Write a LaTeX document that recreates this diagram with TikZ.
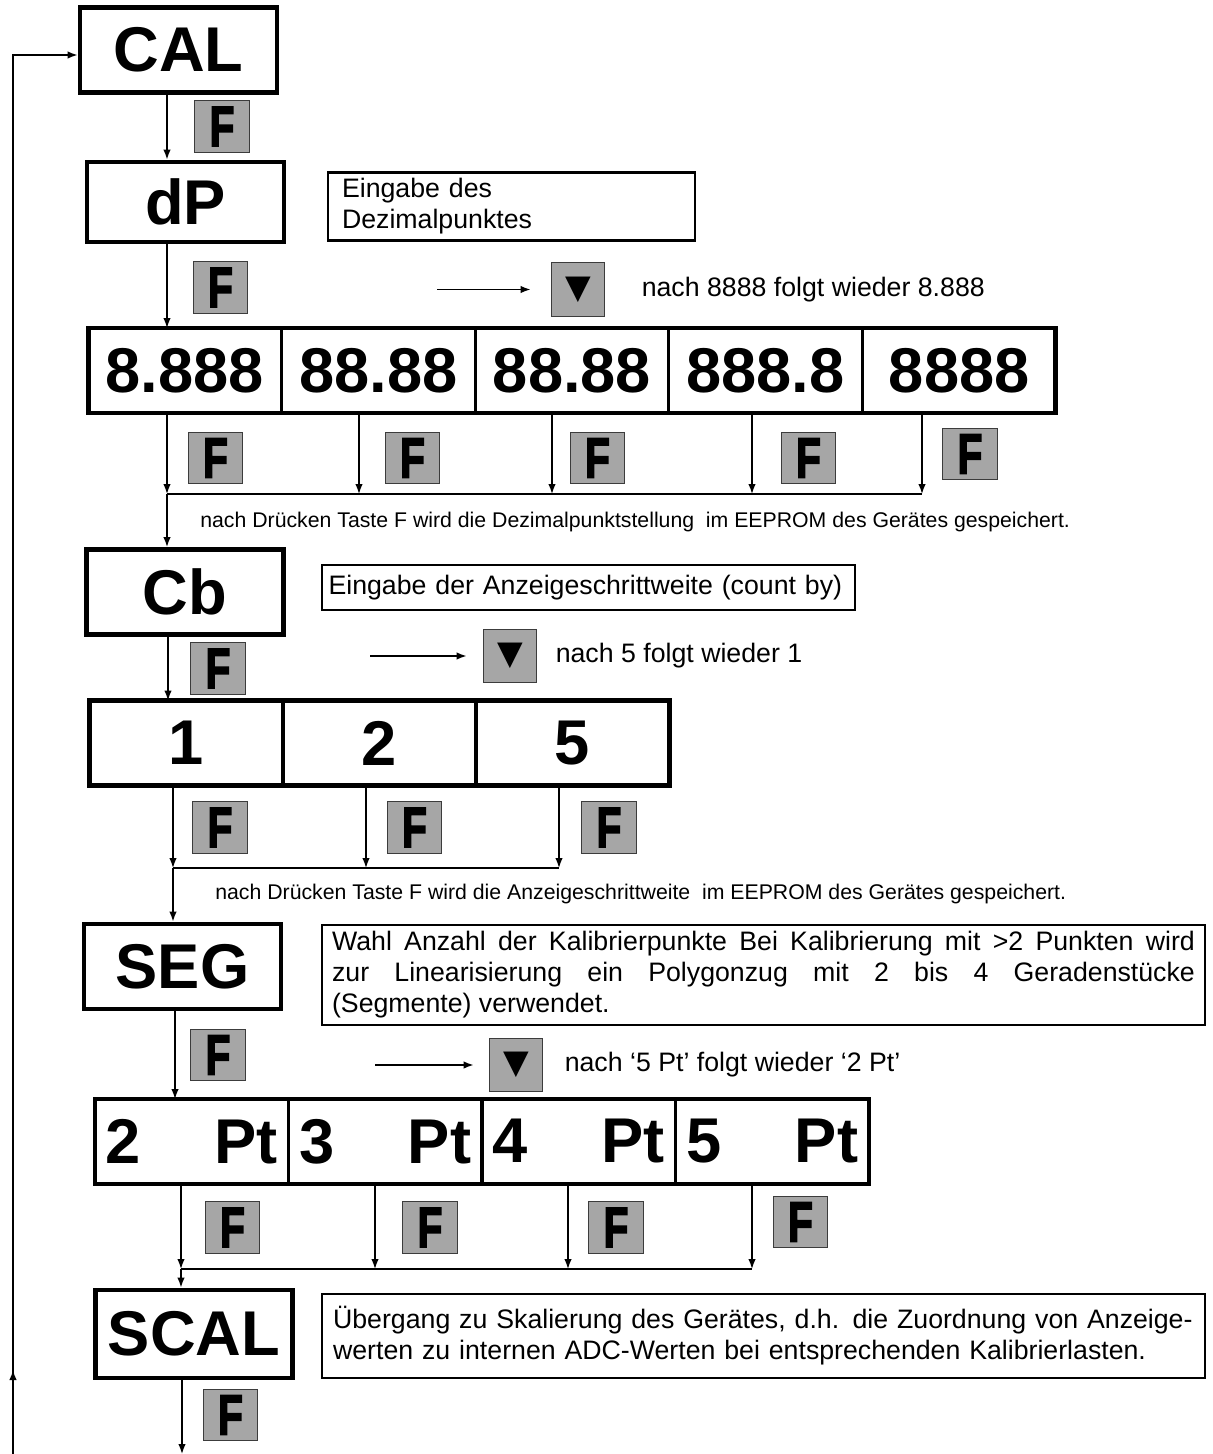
\documentclass[tikz,border=0pt]{standalone}
\usepackage{fontspec}
\setmainfont{Liberation Sans}
\newfontfamily\symfont{DejaVu Sans}
\newfontfamily\keyfont[FakeBold=3.5]{Liberation Sans}
\usepackage{graphicx}
\usetikzlibrary{arrows.meta,positioning}
\definecolor{keygray}{RGB}{166,166,166}
\definecolor{keyedge}{RGB}{60,60,60}
\newcommand\dispfont{\fontsize{36}{36}\selectfont\bfseries}
\newcommand\infofont{\fontsize{15.2}{17.6}\selectfont}
\newcommand\notefont{\fontsize{12.1}{14}\selectfont}
\newcommand\keyF{\scalebox{0.72}[1]{F}}

\begin{document}
\begin{tikzpicture}[x=0.02cm,y=-0.02cm,>={Latex[length=0.2cm,width=0.15cm]},
  disp/.style={draw,line width=2.8pt,minimum width=3.94cm,minimum height=1.7cm,inner sep=0pt,font=\dispfont},
  cell/.style={draw,line width=1.7pt,outer sep=0pt,minimum width=3.87cm,minimum height=1.7cm,inner sep=0pt,font=\dispfont},
  frame/.style={line width=2.8pt},
  fkey/.style={draw=keyedge,fill=keygray,line width=0.8pt,minimum width=1.09cm,minimum height=1.03cm,inner sep=0pt,
    font=\keyfont\fontsize{32}{32}\selectfont\bfseries},
  downkey/.style={draw=keyedge,fill=keygray,line width=0.8pt,minimum size=1.07cm,inner sep=0pt,
    font=\symfont\fontsize{19}{19}\selectfont},
  infobox/.style={draw,line width=1.4pt,font=\infofont},
  hint/.style={font=\infofont,inner sep=0pt,anchor=west},
  note/.style={font=\notefont,inner sep=0pt,anchor=west},
  flow/.style={line width=0.85pt,->},
  link/.style={line width=0.85pt}]
 \useasboundingbox (0,0) rectangle (1213,1454);
 % Hauptmenue CAL und Dezimalpunkt
 \node[disp] (cal) at (178.5,50) {CAL};
 \node[fkey] (fa) at (222,126.5) {\keyF};
 \node[disp,minimum height=1.6cm] (dp) at (185.5,202) {dP};
 \node[infobox,text width=6.78cm,inner xsep=0.28cm,minimum height=1.36cm,align=left]
  (dpinfo) at (511.5,206.5) {Eingabe des\\Dezimalpunktes};
 \node[fkey] (fb) at (220.5,287.5) {\keyF};
 \node[downkey] (dk1) at (578,289.5) {▼};
 \coordinate (dk1in) at (437,289.5);
 \draw[flow,shorten >=0.4cm] (dk1in) -- (dk1.west);
 \node[hint,right=0.72cm of dk1] (dk1txt) {nach 8888 folgt wieder 8.888};
 \coordinate (sp1) at (167,0);
 \draw[flow] (cal.south -| sp1) -- (dp.north -| sp1);
 % Zeile der Dezimalpunktstellungen
 \foreach \v [count=\i] in {8.888,88.88,88.88,888.8,8888}
  \node[cell] (ra\i) at ({88+96.8+193.6*(\i-1)},370.5) {\v};
 \draw[frame] (ra1.north west) rectangle (ra5.south east);
 \draw[flow] (dp.south -| sp1) -- (ra1.north -| sp1);
 \foreach \x/\k in {167/a,359/b,552/c,752/d,922/e}
  \coordinate (j1\k) at (\x,494);
 \foreach \k [count=\i] in {a,b,c,d,e}
  \draw[flow] (ra\i.south -| j1\k) -- (j1\k);
 \draw[link] (j1a) -- (j1e);
 \foreach \x/\y [count=\i] in {215.5/458,412.5/458,597.5/458,808.5/458,970/454}
  \node[fkey] (fr\i) at (\x,\y) {\keyF};
 \node[note] (note1) at (200,522)
  {nach Drücken Taste F wird die Dezimalpunktstellung\ \ im EEPROM des Gerätes gespeichert.};
 % Anzeigeschrittweite
 \node[disp] (cb) at (185,592) {Cb};
 \draw[flow] (j1a) -- (cb.north -| j1a);
 \node[infobox,text width=10.4cm,inner xsep=0.13cm,minimum height=0.9cm,align=left]
  (cbinfo) at (588.5,587.5) {Eingabe der Anzeigeschrittweite (count by)};
 \node[fkey] (fc) at (218,668.5) {\keyF};
 \node[downkey] (dk2) at (510,656) {▼};
 \coordinate (dk2in) at (370,656);
 \draw[flow,shorten >=0.32cm] (dk2in) -- (dk2.west);
 \node[hint,right=0.36cm of dk2] (dk2txt) {nach 5 folgt wieder 1};
 \foreach \v [count=\i] in {1,2,5}
  \node[cell] (rb\i) at ({90+96.5+193*(\i-1)},743) {\v};
 \draw[frame] (rb1.north west) rectangle (rb3.south east);
 \coordinate (sp2) at (168,0);
 \draw[flow] (cb.south -| sp2) -- (rb1.north -| sp2);
 \foreach \x/\k in {173/a,366/b,559/c}
  \coordinate (j2\k) at (\x,868);
 \foreach \k [count=\i] in {a,b,c}
  \draw[flow] (rb\i.south -| j2\k) -- (j2\k);
 \draw[link] (j2a) -- (j2c);
 \foreach \x [count=\i] in {220,414.5,609}
  \node[fkey] (fs\i) at (\x,827.5) {\keyF};
 \node[note] (note2) at (215,894)
  {nach Drücken Taste F wird die Anzeigeschrittweite\ \ im EEPROM des Gerätes gespeichert.};
 % Segmente / Kalibrierpunkte
 \node[disp] (seg) at (182.5,966.5) {SEG};
 \draw[flow] (j2a) -- (seg.north -| j2a);
 \node[infobox,text width=17.26cm,inner xsep=0.2cm,minimum height=2cm,align=justify]
  (seginfo) at (763.5,975) {Wahl Anzahl der Kalibrierpunkte Bei Kalibrierung mit >2 Punkten wird\linebreak
  zur Linearisierung ein Polygonzug mit 2 bis 4 Geradenstücke\linebreak (Segmente) verwendet.};
 \node[fkey] (fd) at (218,1055) {\keyF};
 \node[downkey] (dk3) at (516,1065) {▼};
 \coordinate (dk3in) at (375,1065);
 \draw[flow,shorten >=0.3cm] (dk3in) -- (dk3.west);
 \node[hint,right=0.42cm of dk3] (dk3txt) {nach ‘5 Pt’ folgt wieder ‘2 Pt’};
 \foreach \n [count=\i] in {2,3,4,5}
  \node[cell] (rc\i) at ({95+96.75+193.5*(\i-1)},1141.5) {\makebox[3.44cm]{\n\hfill Pt}};
 \draw[frame] (rc1.north west) rectangle (rc4.south east);
 \coordinate (sp3) at (175,0);
 \draw[flow] (seg.south -| sp3) -- (rc1.north -| sp3);
 \foreach \x/\k in {181/a,375/b,568/c,752/d}
  \coordinate (j3\k) at (\x,1269);
 \foreach \k [count=\i] in {a,b,c,d}
  \draw[flow] (rc\i.south -| j3\k) -- (j3\k);
 \draw[link] (j3a) -- (j3d);
 \foreach \x/\y [count=\i] in {232.5/1227.5,430/1227.5,616/1227.5,800.5/1222}
  \node[fkey] (ft\i) at (\x,\y) {\keyF};
 % Skalierung und Ruecksprung
 \node[disp,minimum height=1.76cm] (scal) at (194,1334) {SCAL};
 \draw[flow] (j3a) -- (scal.north -| j3a);
 \node[infobox,text width=17.22cm,inner xsep=0.22cm,minimum height=1.68cm,align=left]
  (scalinfo) at (763.5,1336) {Übergang zu Skalierung des Gerätes, d.h. die Zuordnung von Anzeige-\\
  werten zu internen ADC-Werten bei entsprechenden Kalibrierlasten.};
 \node[fkey] (fe) at (230.5,1415) {\keyF};
 \coordinate (scalout) at (182,1454);
 \draw[flow] (scal.south -| scalout) -- (scalout);
 \coordinate (loopbot) at (13,1454);
 \coordinate (loopmark) at (13,1370);
 \draw[flow] (loopbot) -- (loopmark);
 \draw[flow] (loopbot) |- ([yshift=-0.1cm]cal.west);
\end{tikzpicture}
\end{document}
